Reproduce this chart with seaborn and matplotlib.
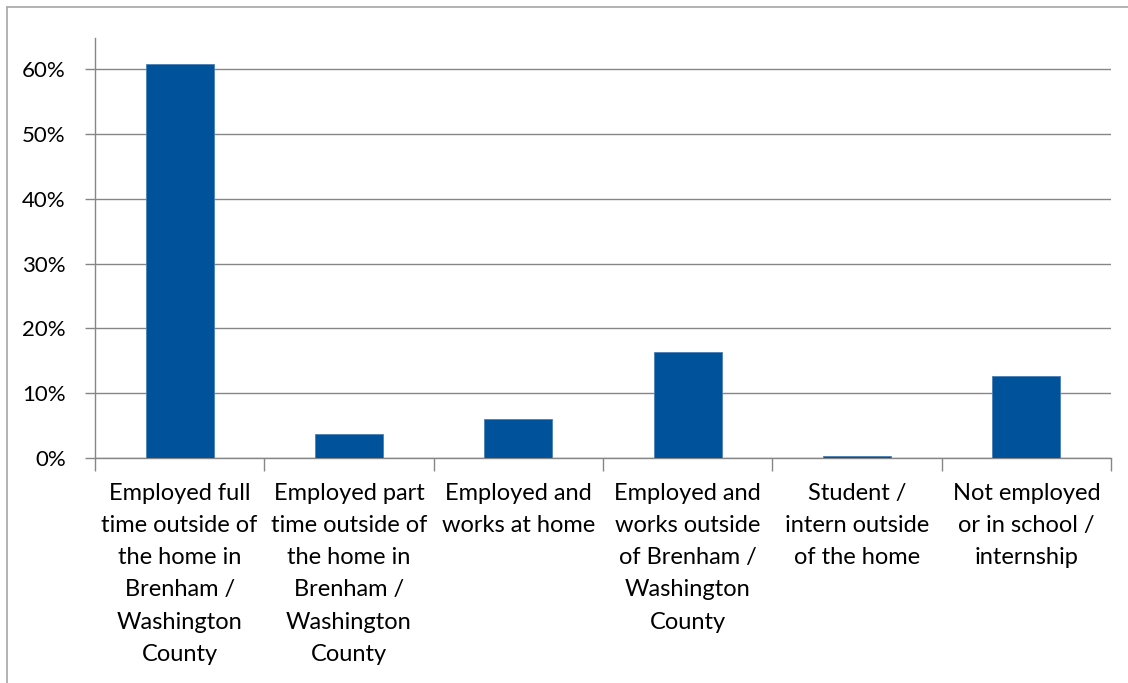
import matplotlib
matplotlib.use("Agg")
import matplotlib.pyplot as plt
from matplotlib.lines import Line2D
from matplotlib.ticker import FuncFormatter, MultipleLocator, FixedLocator
import seaborn as sns
import pandas as pd
import numpy as np

categories = [
    "Employed full\ntime outside of\nthe home in\nBrenham /\nWashington\nCounty",
    "Employed part\ntime outside of\nthe home in\nBrenham /\nWashington\nCounty",
    "Employed and\nworks at home",
    "Employed and\nworks outside\nof Brenham /\nWashington\nCounty",
    "Student /\nintern outside\nof the home",
    "Not employed\nor in school /\ninternship",
]
shares = [0.608, 0.037, 0.060, 0.163, 0.002, 0.127]

sns.set_theme(style="white")
plt.rcParams["font.family"] = ["Lato", "DejaVu Sans"]

df = pd.DataFrame({"category": categories, "share": shares})

fig = plt.figure(figsize=(11.28, 6.83), dpi=100)
ax = fig.add_axes([95 / 1128, 1 - 457.7 / 683, (1111 - 95) / 1128, (457.7 - 37.7) / 683])

sns.barplot(data=df, x="category", y="share", color="#00529B", saturation=1,
            width=0.4, ax=ax, zorder=3, edgecolor="#4A7FB5", linewidth=0.6)

grid_c = "#868686"
ax.set_ylim(0, 0.649)
ax.set_xlim(-0.5, len(categories) - 0.5)
ax.yaxis.set_major_locator(MultipleLocator(0.1))
ax.yaxis.set_major_formatter(FuncFormatter(lambda v, p: f"{v*100:.0f}%"))
ax.grid(axis="y", color=grid_c, linewidth=1.0, zorder=0)
ax.set_axisbelow(True)

for s in ["top", "right"]:
    ax.spines[s].set_visible(False)
for s in ["left", "bottom"]:
    ax.spines[s].set_color(grid_c)
    ax.spines[s].set_linewidth(1.0)

ax.set_xlabel("")
ax.set_ylabel("")
ax.tick_params(axis="y", which="major", length=7, width=1, color=grid_c,
               labelsize=16, labelcolor="#000000", pad=14, left=True)
ax.tick_params(axis="x", which="major", length=0, labelsize=17,
               labelcolor="#000000", pad=18)
ax.xaxis.set_minor_locator(FixedLocator(np.arange(-0.5, len(categories), 1.0)))
ax.tick_params(axis="x", which="minor", length=9, width=1, color=grid_c, bottom=True)
for lab in ax.get_xticklabels():
    lab.set_linespacing(1.66)
    lab.set_ha("center")

# chart frame
fig.add_artist(Line2D([6.5 / 1128, 6.5 / 1128], [0, 1 - 7 / 683],
                      transform=fig.transFigure, color="#A6A6A6", linewidth=1.2))
fig.add_artist(Line2D([6.5 / 1128, 1], [1 - 7 / 683, 1 - 7 / 683],
                      transform=fig.transFigure, color="#A6A6A6", linewidth=1.2))

fig.savefig("out.png", dpi=100, facecolor="white")
